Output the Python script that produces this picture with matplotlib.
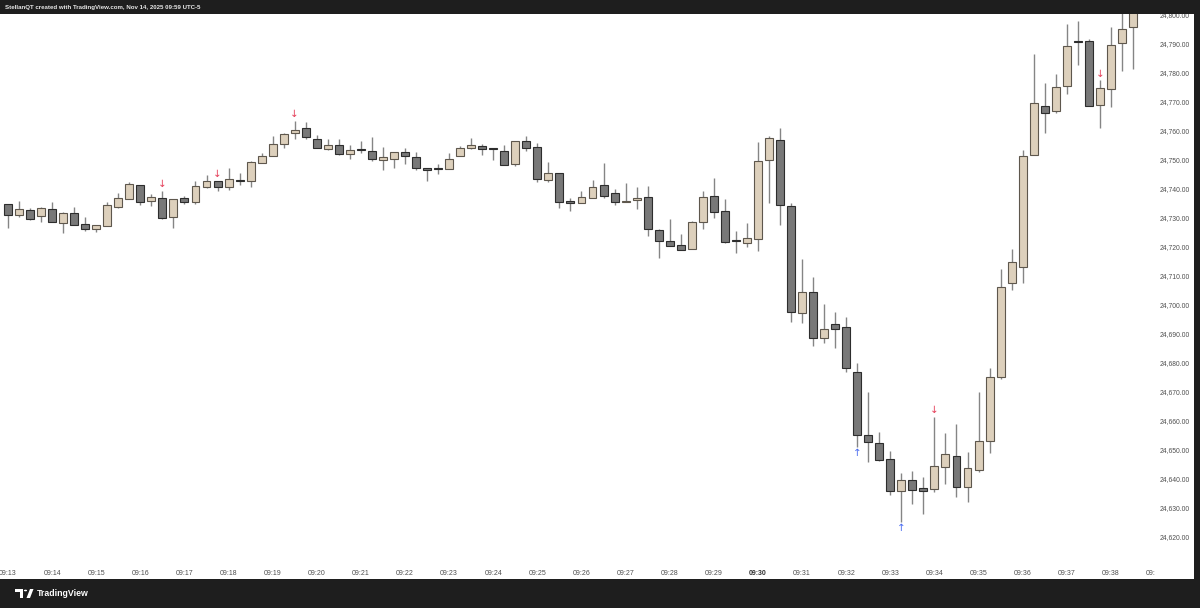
import matplotlib
matplotlib.use('Agg')
import matplotlib.pyplot as plt
from matplotlib.patches import Rectangle, Polygon, Circle
from matplotlib.transforms import Bbox, TransformedBbox
import numpy as np

# ---------------- data (15-second candles, NQ, Nov 14 2025) ----------------
time_labels = ['09:13', '09:14', '09:15', '09:16', '09:17', '09:18', '09:19',
               '09:20', '09:21', '09:22', '09:23', '09:24', '09:25', '09:26',
               '09:27', '09:28', '09:29', '09:30', '09:31', '09:32', '09:33',
               '09:34', '09:35', '09:36', '09:37', '09:38', '09:39']

opens = [24734.7, 24731.0, 24732.7, 24730.7, 24733.1, 24728.3, 24731.8, 24727.8, 24726.0, 24727.3,
         24733.8, 24736.4, 24741.2, 24735.9, 24736.7, 24730.2, 24736.8, 24735.6, 24740.5, 24742.6,
         24740.5, 24743.1, 24742.8, 24749.0, 24751.3, 24755.3, 24759.1, 24760.8, 24757.2, 24753.8,
         24755.0, 24752.0, 24753.7, 24753.0, 24749.9, 24750.3, 24752.6, 24751.0, 24747.2, 24747.2,
         24746.8, 24751.3, 24753.9, 24754.7, 24753.9, 24753.0, 24748.4, 24756.5, 24754.4, 24743.0,
         24745.3, 24735.7, 24735.1, 24736.9, 24741.2, 24738.4, 24735.6, 24736.0, 24737.1, 24725.7,
         24721.9, 24720.5, 24719.2, 24728.4, 24737.5, 24732.4, 24722.0, 24721.2, 24722.7, 24749.9,
         24756.8, 24734.1, 24697.1, 24704.3, 24688.5, 24693.3, 24692.3, 24677.0, 24655.1, 24652.5,
         24647.0, 24635.9, 24639.6, 24636.8, 24636.4, 24644.0, 24647.9, 24637.3, 24643.1, 24653.1,
         24675.2, 24707.4, 24713.1, 24751.6, 24768.5, 24766.9, 24775.4, 24790.5, 24790.9, 24768.9,
         24774.3, 24790.1, 24795.6]
highs = [24734.9, 24735.9, 24733.3, 24733.6, 24735.6, 24731.9, 24733.6, 24730.2, 24727.5, 24735.3,
         24738.4, 24742.4, 24741.3, 24738.2, 24739.3, 24736.5, 24737.5, 24742.8, 24744.7, 24742.8,
         24747.1, 24745.3, 24749.4, 24752.2, 24758.3, 24759.1, 24763.5, 24762.9, 24758.5, 24757.0,
         24757.0, 24755.0, 24756.6, 24757.7, 24754.3, 24752.7, 24753.9, 24752.6, 24747.3, 24748.5,
         24752.2, 24754.7, 24757.4, 24755.4, 24754.0, 24755.1, 24756.6, 24758.3, 24755.9, 24749.3,
         24745.4, 24736.7, 24739.3, 24743.0, 24748.8, 24739.8, 24741.9, 24740.5, 24741.1, 24726.0,
         24729.5, 24724.4, 24728.9, 24739.3, 24743.6, 24736.5, 24725.4, 24728.1, 24756.2, 24758.2,
         24760.8, 24735.0, 24715.7, 24709.7, 24700.3, 24697.6, 24695.9, 24680.1, 24670.1, 24656.3,
         24649.7, 24641.9, 24642.7, 24640.8, 24661.5, 24655.9, 24658.9, 24649.4, 24670.1, 24678.1,
         24712.3, 24719.1, 24753.4, 24786.4, 24776.3, 24779.6, 24796.8, 24797.9, 24791.6, 24777.5,
         24795.8, 24806.0, 24808.0]
lows = [24726.4, 24730.2, 24729.4, 24728.7, 24728.4, 24724.7, 24727.4, 24725.4, 24725.0, 24727.2,
        24733.4, 24736.3, 24734.3, 24734.2, 24729.7, 24726.4, 24734.8, 24734.8, 24740.4, 24739.2,
        24739.6, 24741.3, 24740.7, 24748.9, 24751.2, 24754.2, 24757.0, 24757.2, 24754.1, 24753.4,
        24751.8, 24750.2, 24752.2, 24749.6, 24746.5, 24747.1, 24748.4, 24746.5, 24742.8, 24745.0,
        24746.7, 24751.2, 24753.6, 24751.6, 24749.9, 24748.1, 24748.0, 24753.0, 24742.4, 24742.4,
        24733.3, 24732.4, 24735.0, 24736.7, 24736.7, 24734.4, 24735.5, 24733.0, 24723.7, 24716.0,
        24720.3, 24718.8, 24719.1, 24726.0, 24729.8, 24721.2, 24718.0, 24720.0, 24718.6, 24735.0,
        24727.5, 24694.0, 24693.6, 24685.8, 24687.0, 24685.2, 24676.8, 24651.1, 24646.0, 24646.2,
        24634.5, 24625.3, 24631.4, 24627.8, 24635.6, 24638.2, 24633.7, 24632.0, 24642.5, 24649.0,
        24674.3, 24705.1, 24707.6, 24751.5, 24759.1, 24766.0, 24772.6, 24782.6, 24768.4, 24760.8,
        24768.3, 24780.6, 24781.2]
closes = [24731.0, 24732.9, 24729.6, 24733.3, 24728.7, 24731.8, 24727.6, 24726.0, 24727.4, 24734.4,
          24736.8, 24741.5, 24735.4, 24737.1, 24729.8, 24736.4, 24735.6, 24741.0, 24742.7, 24740.5,
          24743.3, 24742.8, 24749.3, 24751.3, 24755.3, 24758.8, 24760.1, 24757.7, 24754.2, 24755.0,
          24752.0, 24753.4, 24753.4, 24750.3, 24750.8, 24752.6, 24751.4, 24747.3, 24746.6, 24746.8,
          24750.3, 24753.9, 24755.1, 24753.6, 24753.6, 24748.2, 24756.5, 24753.9, 24743.5, 24745.3,
          24735.3, 24735.2, 24737.1, 24740.7, 24737.6, 24735.6, 24735.7, 24736.8, 24726.0, 24721.9,
          24720.4, 24718.9, 24728.4, 24737.3, 24732.1, 24721.8, 24721.9, 24722.9, 24749.7, 24757.4,
          24734.4, 24697.6, 24704.3, 24688.5, 24691.8, 24691.6, 24678.3, 24655.1, 24652.8, 24646.4,
          24635.9, 24639.6, 24636.2, 24635.9, 24644.5, 24648.6, 24637.3, 24643.7, 24653.1, 24675.2,
          24706.3, 24714.9, 24751.4, 24769.4, 24766.0, 24775.2, 24789.2, 24790.4, 24768.5, 24774.6,
          24789.7, 24795.0, 24804.0]

sell_signals = [14, 19, 26, 84, 99]   # red down arrows above the high
buy_signals = [77, 81]                # blue up arrows below the low
price_ticks = list(range(24620, 24801, 10))

# ---------------- figure layout ----------------
W, H = 1200, 608
DARK = '#1e1e1e'
fig = plt.figure(figsize=(W / 100, H / 100), dpi=100, facecolor=DARK)


def fx(px):
    return px / W


def fy(py):
    return 1 - py / H


# white chart pane
fig.add_artist(Rectangle((0, fy(579)), fx(1194), fy(14) - fy(579),
                         transform=fig.transFigure, facecolor='white',
                         edgecolor='none', zorder=-10))

ax = fig.add_axes([0, fy(562), fx(1155), (562 - 14) / H])
ax.set_facecolor('white')
for s in ax.spines.values():
    s.set_visible(False)

o = np.array(opens)
h = np.array(highs)
l = np.array(lows)
c = np.array(closes)
idx = np.arange(len(o))
bull = c >= o

BULL_FILL, BULL_EDGE = '#ddd0bc', '#5e574d'
BEAR_FILL, BEAR_EDGE = '#787878', '#2d2d2d'
WICK = '#858585'

ax.vlines(idx, l, h, color=WICK, lw=1.0, zorder=2)
bottoms = np.minimum(o, c)
heights = np.maximum(np.abs(c - o), 0.35)
ax.bar(idx[bull], heights[bull], bottom=bottoms[bull], width=0.72,
       color=BULL_FILL, edgecolor=BULL_EDGE, linewidth=0.8, zorder=3)
ax.bar(idx[~bull], heights[~bull], bottom=bottoms[~bull], width=0.72,
       color=BEAR_FILL, edgecolor=BEAR_EDGE, linewidth=0.8, zorder=3)

for i in sell_signals:
    ax.annotate('↓', xy=(i, h[i]), xytext=(0, 4.6), textcoords='offset points',
                ha='center', va='center', fontsize=7.5, color='#e5405a',
                family='DejaVu Sans', zorder=4)
for i in buy_signals:
    ax.annotate('↑', xy=(i, l[i]), xytext=(0, -4.3), textcoords='offset points',
                ha='center', va='center', fontsize=7.5, color='#4a6cf0',
                family='DejaVu Sans', zorder=4)

# scales
ax.set_xlim((0 - 8) / 11.05, (1155 - 8) / 11.05)
ax.set_ylim(24620 - (562 - 537) / 2.902, 24620 + (537 - 14) / 2.902)

ax.yaxis.tick_right()
ax.set_yticks(price_ticks)
ax.set_yticklabels([f'{v:,.2f}' for v in price_ticks])
ax.tick_params(axis='y', length=0, pad=3, labelsize=4.9, labelcolor='#4f4f4f')
for lab in ax.get_yticklabels():
    lab.set_family('Liberation Sans')

ax.set_xticks(range(0, 4 * len(time_labels), 4))
ax.set_xticklabels(time_labels)
ax.tick_params(axis='x', length=0, pad=6, labelsize=5.0, labelcolor='#4f4f4f')
clip = TransformedBbox(Bbox.from_extents(0, 0, fx(1155), 1), fig.transFigure)
for lab in ax.get_xticklabels():
    lab.set_family('Liberation Sans')
    lab.set_clip_on(True)
    lab.set_clip_box(clip)
    if lab.get_text() == '09:30':
        lab.set_fontweight('bold')
        lab.set_color('#333333')

# top bar
fig.add_artist(Rectangle((0, fy(14)), 1, 1 - fy(14), transform=fig.transFigure,
                         facecolor=DARK, edgecolor='none', zorder=10))
fig.text(fx(5), fy(7), 'StellanQT created with TradingView.com, Nov 14, 2025 09:59 UTC-5',
         color='#e8e8e8', fontsize=4.4, fontweight='semibold', family='Liberation Sans',
         ha='left', va='center', zorder=11)

# TradingView logo at the bottom
logo_parts = [
    Polygon([(fx(15), fy(589)), (fx(23), fy(589)), (fx(23), fy(598)), (fx(19.5), fy(598)),
             (fx(19.5), fy(592)), (fx(15), fy(592))], closed=True),
    Circle((fx(25.5), fy(590.5)), 1.6 / W),
    Polygon([(fx(26.5), fy(598)), (fx(30), fy(589)), (fx(33.5), fy(589)), (fx(30), fy(598))],
            closed=True),
]
for p in logo_parts:
    p.set_transform(fig.transFigure)
    p.set_facecolor('white')
    p.set_edgecolor('none')
    p.set_zorder(11)
    fig.add_artist(p)
fig.text(fx(37), fy(593.5), 'TradingView', color='white', fontsize=6.3,
         fontweight='semibold', family='Liberation Sans', ha='left', va='center')

fig.savefig('out.png', dpi=100, facecolor=DARK)
